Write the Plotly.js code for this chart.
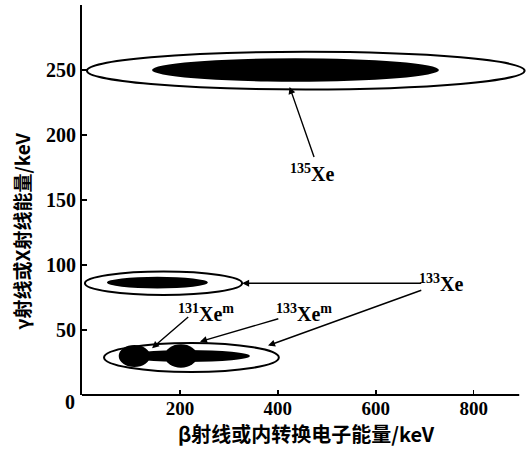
<!DOCTYPE html>
<html>
<head>
<meta charset="utf-8">
<script src="https://cdn.plot.ly/plotly-3.0.1.min.js"></script>
<style>html,body{margin:0;padding:0;background:#fff;}#chart{width:531px;height:453px;}</style>
</head>
<body>
<div id="chart"></div>
<script>
// Outer (white) envelopes: beta/electron energy range (keV) and gamma/X energy range (keV)
const outerNames = ['135Xe', '133Xe (81 keV)', '133Xe / 131Xem / 133Xem (X-ray)'];
const outerBeta = [[10, 904], [6, 327], [45, 402]];
const outerGamma = [[235, 264], [77, 95], [17.7, 40]];

// Inner (black) cores
const coreNames = ['135Xe', '133Xe (81 keV)', '131Xem', '133Xem', '133Xe (X-ray)'];
const coreBeta = [[143, 729], [51, 257], [75, 139], [169, 235], [90, 343]];
const coreGamma = [[241, 259], [82, 91], [21.5, 38.5], [21, 39], [25.4, 34.6]];

const xTicks = [200, 400, 600, 800];
const yTicks = [0, 50, 100, 150, 200, 250];
const yTickText = ['', '50', '100', '150', '200', '250'];

const serif = 'Liberation Serif, Times New Roman, serif';
const cjk = 'Noto Sans CJK SC, Noto Sans, sans-serif';

const shapes = [];
outerBeta.forEach((b, i) => {
  shapes.push({type: 'circle', xref: 'x', yref: 'y', x0: b[0], x1: b[1],
    y0: outerGamma[i][0], y1: outerGamma[i][1],
    line: {color: '#000', width: 2}, fillcolor: 'rgba(255,255,255,0)'});
});
coreBeta.forEach((b, i) => {
  shapes.push({type: 'circle', xref: 'x', yref: 'y', x0: b[0], x1: b[1],
    y0: coreGamma[i][0], y1: coreGamma[i][1],
    line: {color: '#000', width: 0}, fillcolor: '#000'});
});
// x axis line (ends before the plot edge, as in the reference)
shapes.push({type: 'line', xref: 'x', yref: 'paper', x0: 0, x1: 893, y0: 0, y1: 0,
  line: {color: '#000', width: 2}});

function arrow(x, y, ax, ay) {
  return {x: x, y: y, ax: ax, ay: ay, xref: 'x', yref: 'y', axref: 'x', ayref: 'y',
    text: '', showarrow: true, arrowhead: 2, arrowsize: 1, arrowwidth: 1.4,
    arrowcolor: '#000', standoff: 0, startstandoff: 0};
}
function label(x, y, txt) {
  return {x: x, y: y, xref: 'x', yref: 'y', text: txt, showarrow: false,
    xanchor: 'center', yanchor: 'middle',
    font: {family: serif, size: 20, color: '#000', weight: 'bold'}};
}

const annotations = [
  arrow(424, 237, 475, 182),
  label(469, 171, '<sup>135</sup>Xe'),
  arrow(327, 86, 696, 86),
  arrow(380, 38, 696, 81),
  label(734, 86, '<sup>133</sup>Xe'),
  arrow(143, 36, 220, 61),
  label(253, 63, '<sup>131</sup>Xe<sup>m</sup>'),
  arrow(241, 41, 404, 59),
  label(453, 63, '<sup>133</sup>Xe<sup>m</sup>'),
  {x: -0.027, y: -0.018, xref: 'paper', yref: 'paper', text: '0', showarrow: false,
    xanchor: 'center', yanchor: 'middle',
    font: {family: serif, size: 20, color: '#000', weight: 'bold'}},
  {x: -0.135, y: 0.42, xref: 'paper', yref: 'paper', text: 'γ射线或X射线能量/keV',
    textangle: -90, showarrow: false, xanchor: 'center', yanchor: 'middle',
    font: {family: cjk, size: 19, color: '#000', weight: 'bold'}}
];

const layout = {
  width: 531, height: 453,
  margin: {l: 82, r: 1, t: 5, b: 58},
  paper_bgcolor: '#fff', plot_bgcolor: '#fff',
  showlegend: false,
  xaxis: {
    range: [0, 915], showline: false, zeroline: false, showgrid: false,
    tickvals: xTicks, ticks: 'inside', ticklen: 5, tickwidth: 1.5, tickcolor: '#000',
    tickfont: {family: serif, size: 19, color: '#000', weight: 'bold'},
    title: {text: 'β射线或内转换电子能量/keV', standoff: 8,
      font: {family: cjk, size: 20, color: '#000', weight: 'bold'}},
    fixedrange: true
  },
  yaxis: {
    range: [0, 300], showline: true, linecolor: '#000', linewidth: 2,
    zeroline: false, showgrid: false,
    tickvals: yTicks, ticktext: yTickText, ticks: 'inside', ticklen: 5, tickwidth: 1.5,
    tickcolor: '#000', ticklabelstandoff: 0,
    tickfont: {family: serif, size: 20, color: '#000', weight: 'bold'},
    fixedrange: true
  },
  shapes: shapes,
  annotations: annotations
};

Plotly.newPlot('chart', [{x: [], y: [], type: 'scatter', mode: 'markers', hoverinfo: 'skip'}],
  layout, {displayModeBar: false, staticPlot: true});
</script>
</body>
</html>
